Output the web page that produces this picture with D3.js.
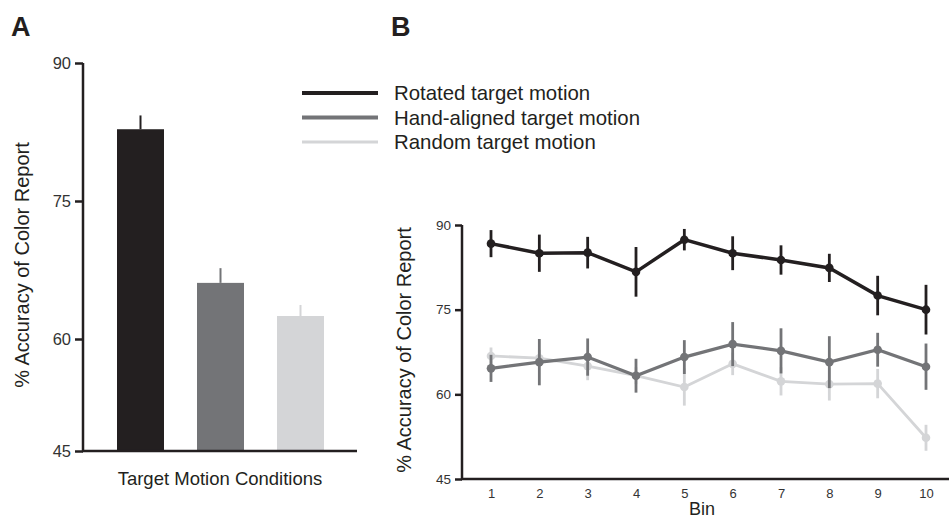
<!DOCTYPE html>
<html>
<head>
<meta charset="utf-8">
<script src="https://cdn.jsdelivr.net/npm/d3@7"></script>
<style>
  body { margin: 0; background: #fff; }
  text { font-family: "Liberation Sans", Arial, sans-serif; fill: #231f20; }
</style>
</head>
<body>
<svg id="chart" width="949" height="519"></svg>
<script>
// panel A: overall accuracy per condition
var conditions = ["Rotated target motion", "Hand-aligned target motion", "Random target motion"];
var barMeans = [82.8, 66.1, 62.5];
var barErrors = [1.5, 1.6, 1.2];

// panel B: accuracy per bin
var bins = [1, 2, 3, 4, 5, 6, 7, 8, 9, 10];
var rotatedMeans = [86.7, 85.0, 85.1, 81.7, 87.4, 85.0, 83.8, 82.4, 77.5, 75.0];
var rotatedErrors = [2.4, 3.3, 2.8, 4.4, 1.9, 3.0, 2.6, 2.5, 3.5, 4.4];
var alignedMeans = [64.6, 65.7, 66.6, 63.3, 66.6, 68.9, 67.7, 65.7, 67.9, 64.9];
var alignedErrors = [2.4, 4.1, 3.3, 3.0, 3.0, 3.9, 4.0, 4.6, 3.0, 4.1];
var randomMeans = [66.8, 66.4, 65.0, 63.3, 61.3, 65.4, 62.3, 61.8, 61.9, 52.3];
var randomErrors = [1.5, 1.5, 2.5, 1.5, 3.3, 2.0, 2.5, 2.9, 2.6, 2.3];

var yTicks = [45, 60, 75, 90];
var colors = ["#231f20", "#737477", "#d4d5d7"];

var svg = d3.select("#chart");

// panel letters
svg.append("text").attr("x", 11).attr("y", 36)
  .style("font-size", "27px").style("font-weight", "bold").text("A");
svg.append("text").attr("x", 391).attr("y", 36)
  .style("font-size", "27px").style("font-weight", "bold").text("B");

// ---- panel A ----
// the bottom segment of this axis is drawn shorter in the figure
var yA = d3.scaleLinear().domain([45, 60, 90]).range([451, 339, 63]);
var xA = d3.scaleBand().domain(conditions).range([83, 358]).paddingInner(0.4125).paddingOuter(0.425);

var gA = svg.append("g");

gA.selectAll("rect.bar")
  .data(barMeans)
  .enter()
  .append("rect")
    .attr("class", "bar")
    .attr("x", (d, i) => xA(conditions[i]))
    .attr("width", xA.bandwidth())
    .attr("y", (d) => yA(d))
    .attr("height", (d) => yA(45) - yA(d))
    .style("fill", (d, i) => colors[i]);

gA.selectAll("line.err")
  .data(barMeans)
  .enter()
  .append("line")
    .attr("class", "err")
    .attr("x1", (d, i) => xA(conditions[i]) + xA.bandwidth() / 2)
    .attr("x2", (d, i) => xA(conditions[i]) + xA.bandwidth() / 2)
    .attr("y1", (d) => yA(d))
    .attr("y2", (d, i) => yA(d + barErrors[i]))
    .style("stroke", (d, i) => colors[i])
    .style("stroke-width", 2);

var axA = gA.append("g").attr("transform", "translate(83,0)")
  .call(d3.axisLeft(yA).tickValues(yTicks).tickSize(8).tickPadding(4));
axA.select(".domain").attr("d", "M0," + yA(90) + "V" + yA(45)).style("stroke", "#231f20").style("stroke-width", 2.5);
axA.selectAll(".tick line").style("stroke", "#231f20").style("stroke-width", 2.5);
axA.selectAll(".tick text").style("font-size", "16.5px").style("fill", "#333");

gA.append("line")
  .attr("x1", 82).attr("x2", 357).attr("y1", yA(45)).attr("y2", yA(45))
  .style("stroke", "#231f20").style("stroke-width", 2.5);

gA.append("text").attr("x", 220).attr("y", 485).attr("text-anchor", "middle")
  .style("font-size", "18.5px").text("Target Motion Conditions");
gA.append("text").attr("transform", "translate(29,265) rotate(-90)").attr("text-anchor", "middle")
  .style("font-size", "20px").text("% Accuracy of Color Report");

// ---- legend ----
var legend = svg.append("g");
legend.selectAll("line")
  .data(conditions)
  .enter()
  .append("line")
    .attr("x1", 302).attr("x2", 378)
    .attr("y1", (d, i) => 93 + i * 24.5)
    .attr("y2", (d, i) => 93 + i * 24.5)
    .style("stroke", (d, i) => colors[i])
    .style("stroke-width", (d, i) => i == 2 ? 3 : 4);
legend.selectAll("text")
  .data(conditions)
  .enter()
  .append("text")
    .attr("x", 394)
    .attr("y", (d, i) => 100 + i * 24.5)
    .style("font-size", "20.4px")
    .text((d) => d);

// ---- panel B ----
var xB = d3.scalePoint().domain(bins).range([491, 926]);
var yB = d3.scaleLinear().domain([45, 90]).range([479, 225]);

var gB = svg.append("g");

var axB = gB.append("g").attr("transform", "translate(462,0)")
  .call(d3.axisLeft(yB).tickValues(yTicks).tickSize(7).tickPadding(4));
axB.select(".domain").attr("d", "M0," + yB(90) + "V" + yB(45)).style("stroke", "#231f20").style("stroke-width", 2.5);
axB.selectAll(".tick line").style("stroke", "#231f20").style("stroke-width", 2.5);
axB.selectAll(".tick text").style("font-size", "13.5px").style("fill", "#333");

var axBx = gB.append("g").attr("transform", "translate(0," + yB(45) + ")")
  .call(d3.axisBottom(xB).tickSize(0).tickPadding(10));
axBx.select(".domain").attr("d", "M461,0H949").style("stroke", "#231f20").style("stroke-width", 2.5);
axBx.selectAll(".tick text").style("font-size", "13px").style("fill", "#333");

gB.append("text").attr("x", 702).attr("y", 515).attr("text-anchor", "middle")
  .style("font-size", "18px").text("Bin");
gB.append("text").attr("transform", "translate(411,350) rotate(-90)").attr("text-anchor", "middle")
  .style("font-size", "20px").text("% Accuracy of Color Report");

var series = [
  { means: randomMeans, errors: randomErrors, color: colors[2], width: 2.8 },
  { means: alignedMeans, errors: alignedErrors, color: colors[1], width: 3.2 },
  { means: rotatedMeans, errors: rotatedErrors, color: colors[0], width: 3.5 }
];

var line = d3.line()
  .x((d, i) => xB(bins[i]))
  .y((d) => yB(d));

series.forEach(function(s) {
  var g = gB.append("g");
  g.selectAll("line.err")
    .data(s.means)
    .enter()
    .append("line")
      .attr("x1", (d, i) => xB(bins[i]))
      .attr("x2", (d, i) => xB(bins[i]))
      .attr("y1", (d, i) => yB(d - s.errors[i]))
      .attr("y2", (d, i) => yB(d + s.errors[i]))
      .style("stroke", s.color)
      .style("stroke-width", 2.8);
  g.append("path")
    .datum(s.means)
    .attr("d", line)
    .style("fill", "none")
    .style("stroke", s.color)
    .style("stroke-width", s.width);
  g.selectAll("circle")
    .data(s.means)
    .enter()
    .append("circle")
      .attr("cx", (d, i) => xB(bins[i]))
      .attr("cy", (d) => yB(d))
      .attr("r", 4.3)
      .style("fill", s.color);
});
</script>
</body>
</html>
